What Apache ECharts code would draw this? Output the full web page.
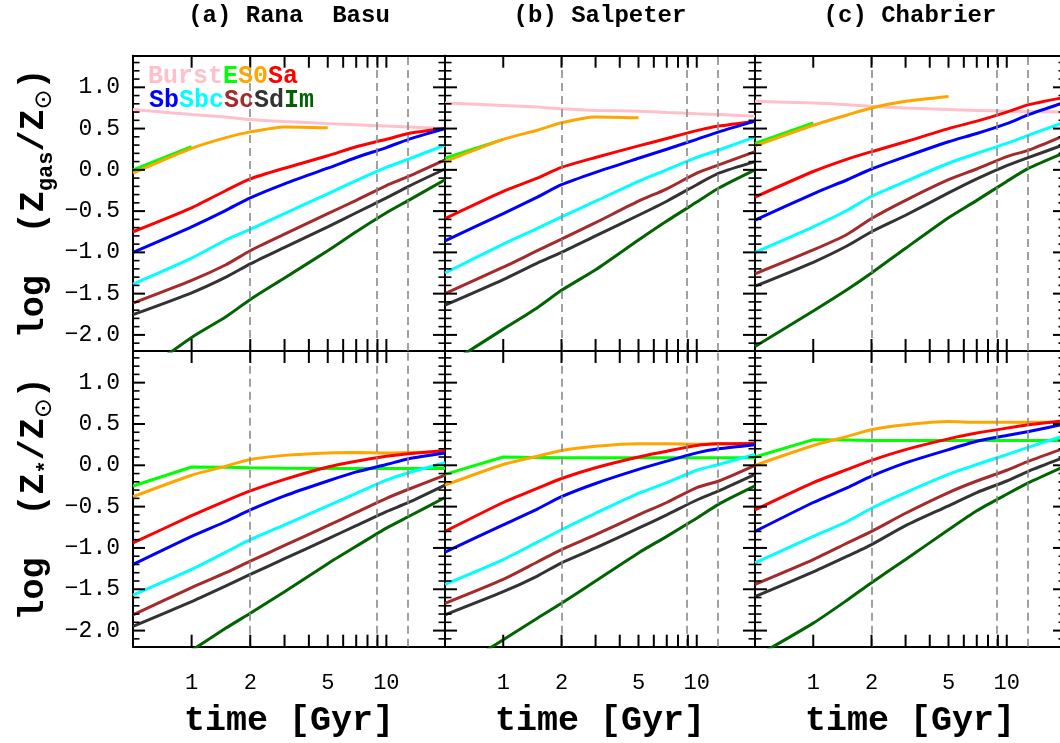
<!DOCTYPE html>
<html><head><meta charset="utf-8">
<script src="https://cdn.jsdelivr.net/npm/echarts@6/dist/echarts.min.js"></script>
<style>html,body{margin:0;padding:0;background:#fff}#c{width:1060px;height:743px}</style>
</head><body><div id="c"></div>
<script>
// ---------------- data ----------------
const TIME_GYR = [0.5, 1, 1.5, 2, 3, 5, 7, 10, 13, 20];
const TYPES = ['Burst', 'E', 'S0', 'Sa', 'Sb', 'Sbc', 'Sc', 'Sd', 'Im'];
const PANEL_TITLES = ['(a) Rana  Basu', '(b) Salpeter', '(c) Chabrier'];
const X_TICKS = [1, 2, 3, 4, 5, 6, 7, 8, 9, 10];
const X_TICK_LABELS = [1, 2, 5, 10];
const Y_TICK_LABELS = [-2.0, -1.5, -1.0, -0.5, 0.0, 0.5, 1.0];
const DASHED_TIMES = [2, 9, 13];

// log(Z_gas/Zsun), panel (a) Rana Basu
const gasRanaBasu = {
  Burst: [0.73, 0.67, 0.64, 0.61, 0.585, 0.56, 0.545, 0.53, 0.52, 0.50],
  E:     [0.00, 0.28],
  S0:    [-0.04, 0.26, 0.39, 0.46, 0.52, 0.51],
  Sa:    [-0.75, -0.46, -0.25, -0.11, 0.02, 0.17, 0.28, 0.37, 0.44, 0.50],
  Sb:    [-1.00, -0.69, -0.49, -0.34, -0.17, 0.02, 0.15, 0.27, 0.37, 0.50],
  Sbc:   [-1.385, -1.07, -0.85, -0.72, -0.53, -0.29, -0.13, 0.03, 0.13, 0.30],
  Sc:    [-1.615, -1.34, -1.15, -0.98, -0.78, -0.53, -0.37, -0.19, -0.08, 0.12],
  Sd:    [-1.755, -1.49, -1.30, -1.14, -0.94, -0.69, -0.52, -0.34, -0.20, 0.01],
  Im:    [-2.54, -2.03, -1.78, -1.57, -1.31, -0.98, -0.75, -0.52, -0.37, -0.12]
};
// log(Z_*/Zsun), panel (a) Rana Basu
const starRanaBasu = {
  E:     [-0.25, -0.02, -0.025, -0.03, -0.035, -0.04, -0.04, -0.04, -0.04, -0.04],
  S0:    [-0.38, -0.12, -0.01, 0.07, 0.12, 0.15, 0.155, 0.15, 0.155, 0.16],
  Sa:    [-0.94, -0.61, -0.43, -0.31, -0.17, -0.02, 0.05, 0.11, 0.14, 0.18],
  Sb:    [-1.20, -0.86, -0.68, -0.54, -0.37, -0.19, -0.08, 0.01, 0.08, 0.15],
  Sbc:   [-1.57, -1.26, -1.05, -0.90, -0.72, -0.49, -0.34, -0.18, -0.09, 0.03],
  Sc:    [-1.81, -1.48, -1.30, -1.16, -0.97, -0.73, -0.57, -0.40, -0.29, -0.12],
  Sd:    [-1.95, -1.65, -1.46, -1.32, -1.13, -0.89, -0.73, -0.56, -0.45, -0.24],
  Im:    [-2.69, -2.24, -1.97, -1.79, -1.53, -1.19, -0.98, -0.76, -0.62, -0.39]
};
// panel (b) Salpeter
const gasSalpeter = {
  Burst: [0.81, 0.78, 0.76, 0.74, 0.72, 0.71, 0.695, 0.68, 0.67, 0.65],
  E:     [0.14, 0.37],
  S0:    [0.10, 0.37, 0.48, 0.57, 0.64, 0.63],
  Sa:    [-0.59, -0.26, -0.10, 0.03, 0.15, 0.29, 0.38, 0.475, 0.53, 0.59],
  Sb:    [-0.86, -0.53, -0.33, -0.18, -0.03, 0.14, 0.25, 0.37, 0.46, 0.59],
  Sbc:   [-1.25, -0.90, -0.71, -0.57, -0.38, -0.14, 0.00, 0.15, 0.24, 0.40],
  Sc:    [-1.50, -1.18, -0.98, -0.84, -0.64, -0.38, -0.23, -0.04, 0.06, 0.22],
  Sd:    [-1.64, -1.33, -1.13, -1.00, -0.80, -0.55, -0.38, -0.18, -0.04, 0.10],
  Im:    [-2.38, -1.93, -1.67, -1.46, -1.21, -0.85, -0.62, -0.39, -0.22, 0.00]
};
const starSalpeter = {
  E:     [-0.11, 0.10, 0.095, 0.09, 0.09, 0.09, 0.09, 0.09, 0.09, 0.09],
  S0:    [-0.24, 0.01, 0.11, 0.18, 0.23, 0.26, 0.26, 0.255, 0.26, 0.26],
  Sa:    [-0.80, -0.45, -0.28, -0.16, -0.03, 0.10, 0.17, 0.24, 0.26, 0.265],
  Sb:    [-1.05, -0.72, -0.53, -0.38, -0.22, -0.05, 0.05, 0.15, 0.20, 0.25],
  Sbc:   [-1.44, -1.14, -0.93, -0.78, -0.58, -0.34, -0.21, -0.06, 0.01, 0.13],
  Sc:    [-1.67, -1.38, -1.17, -1.02, -0.84, -0.60, -0.45, -0.27, -0.19, 0.00],
  Sd:    [-1.81, -1.53, -1.34, -1.18, -1.00, -0.76, -0.60, -0.42, -0.31, -0.11],
  Im:    [-2.56, -2.11, -1.85, -1.67, -1.40, -1.06, -0.86, -0.64, -0.47, -0.25]
};
// panel (c) Chabrier
const gasChabrier = {
  Burst: [0.83, 0.81, 0.79, 0.77, 0.75, 0.73, 0.72, 0.71, 0.705, 0.70],
  E:     [0.32, 0.57],
  S0:    [0.29, 0.54, 0.665, 0.75, 0.83, 0.89],
  Sa:    [-0.33, -0.02, 0.13, 0.22, 0.34, 0.50, 0.59, 0.70, 0.79, 0.88],
  Sb:    [-0.61, -0.29, -0.12, 0.01, 0.16, 0.34, 0.44, 0.56, 0.67, 0.82],
  Sbc:   [-1.00, -0.69, -0.49, -0.32, -0.14, 0.08, 0.20, 0.32, 0.42, 0.58],
  Sc:    [-1.26, -0.97, -0.78, -0.59, -0.37, -0.12, 0.01, 0.16, 0.24, 0.42],
  Sd:    [-1.41, -1.12, -0.92, -0.75, -0.55, -0.28, -0.11, 0.05, 0.15, 0.31],
  Im:    [-2.14, -1.71, -1.45, -1.25, -0.95, -0.58, -0.37, -0.14, 0.02, 0.21]
};
const starChabrier = {
  E:     [0.10, 0.31, 0.305, 0.30, 0.30, 0.30, 0.30, 0.30, 0.30, 0.30],
  S0:    [0.00, 0.24, 0.35, 0.43, 0.49, 0.53, 0.52, 0.52, 0.52, 0.52],
  Sa:    [-0.54, -0.21, -0.05, 0.06, 0.19, 0.32, 0.39, 0.45, 0.49, 0.54],
  Sb:    [-0.80, -0.45, -0.27, -0.13, 0.03, 0.19, 0.29, 0.36, 0.41, 0.50],
  Sbc:   [-1.18, -0.86, -0.68, -0.52, -0.33, -0.11, 0.01, 0.13, 0.22, 0.36],
  Sc:    [-1.44, -1.14, -0.94, -0.80, -0.58, -0.33, -0.19, -0.06, 0.05, 0.21],
  Sd:    [-1.59, -1.29, -1.10, -0.96, -0.73, -0.49, -0.33, -0.19, -0.07, 0.10],
  Im:    [-2.32, -1.91, -1.63, -1.42, -1.14, -0.78, -0.55, -0.35, -0.21, -0.01]
};

// ---------------- styles / layout ----------------
const COLORS = {Burst:'#FFC0CB', E:'#00FF00', S0:'#FFA500', Sa:'#FF0000', Sb:'#0000FF',
  Sbc:'#00FFFF', Sc:'#A52A2A', Sd:'#333333', Im:'#006400'};
const FONT = 'Liberation Mono, DejaVu Sans Mono, monospace';
const GAS = [gasRanaBasu, gasSalpeter, gasChabrier];
const STAR = [starRanaBasu, starSalpeter, starChabrier];
const COL_LEFT = [133, 445, 755];
const COL_WIDTH = [312, 310, 310];
const ROW_TOP = [55.7, 351];
const ROW_HEIGHT = [295.3, 295.7];
const X_RANGE = [Math.log10(0.5), Math.log10(20)];
const Y_RANGE = [-2.195, 1.383];
const yMinor = [];
for (let k = -21; k <= 13; k++) if (k % 5 !== 0) yMinor.push(k / 10);

const lg = Math.log10;
const grids = [], xAxes = [], yAxes = [], series = [];

function fmtY(v) {
  const s = Math.abs(v).toFixed(1);
  return (v < -1e-9 ? '\u2212' : '') + s;
}

// tick marks drawn through the axes' own coordinate conversion
// side: 0 bottom, 1 top, 2 left, 3 right
const tickItems = [];
X_TICKS.forEach(t => { tickItems.push([lg(t), 0, 12]); tickItems.push([lg(t), 1, 12]); });
Y_TICK_LABELS.forEach(v => { tickItems.push([v, 2, 12]); tickItems.push([v, 3, 12]); });
yMinor.forEach(v => { tickItems.push([v, 2, 6.5]); tickItems.push([v, 3, 6.5]); });

function renderTick(params, api) {
  const v = api.value(0), side = api.value(1), len = api.value(2);
  let p, q;
  if (side === 0) { p = api.coord([v, Y_RANGE[0]]); q = [p[0], p[1] - len]; }
  else if (side === 1) { p = api.coord([v, Y_RANGE[1]]); q = [p[0], p[1] + len]; }
  else if (side === 2) { p = api.coord([X_RANGE[0], v]); q = [p[0] + len, p[1]]; }
  else { p = api.coord([X_RANGE[1], v]); q = [p[0] - len, p[1]]; }
  return {type: 'line', shape: {x1: p[0], y1: p[1], x2: q[0], y2: q[1]},
    style: {stroke: '#000', lineWidth: len > 8 ? 2 : 1.6}};
}

for (let r = 0; r < 2; r++) {
  for (let c = 0; c < 3; c++) {
    const g = r * 3 + c;
    grids.push({left: COL_LEFT[c], top: ROW_TOP[r], width: COL_WIDTH[c], height: ROW_HEIGHT[r],
      containLabel: false, outerBoundsMode: 'none'});
    const axLine = {show: true, onZero: false, lineStyle: {color: '#000', width: 2}};
    for (const pos of ['bottom', 'top']) {
      const showLab = (pos === 'bottom' && r === 1);
      xAxes.push({
        type: 'value', gridIndex: g, position: pos, min: X_RANGE[0], max: X_RANGE[1],
        axisLine: axLine, splitLine: {show: false}, axisTick: {show: false},
        axisLabel: {show: showLab, customValues: X_TICK_LABELS.map(lg), margin: 25,
          formatter: v => String(Math.round(Math.pow(10, v))),
          fontFamily: FONT, fontSize: 22, color: '#000'},
        name: showLab ? 'time [Gyr]' : '', nameLocation: 'middle', nameGap: 57,
        nameTextStyle: {fontFamily: FONT, fontSize: 35, fontWeight: 'bold', color: '#000'}
      });
    }
    for (const pos of ['left', 'right']) {
      const showLab = (pos === 'left' && c === 0);
      yAxes.push({
        type: 'value', gridIndex: g, position: pos, min: Y_RANGE[0], max: Y_RANGE[1],
        axisLine: axLine, splitLine: {show: false}, axisTick: {show: false},
        axisLabel: {show: showLab, customValues: Y_TICK_LABELS, margin: 13, formatter: fmtY,
          fontFamily: FONT, fontSize: 23, color: '#000'}
      });
    }
    // dashed reference times
    series.push({
      type: 'line', xAxisIndex: 2 * g, yAxisIndex: 2 * g, data: [], z: 1, silent: true,
      markLine: {silent: true, symbol: ['none', 'none'], label: {show: false}, animation: false,
        lineStyle: {color: '#8a8a8a', width: 1.6, type: [8, 5]},
        data: DASHED_TIMES.map(t => ({xAxis: lg(t)}))}
    });
    const set = r === 0 ? GAS[c] : STAR[c];
    for (const ty of TYPES) {
      const arr = set[ty];
      if (!arr) continue;
      const data = arr.map((v, i) => [lg(TIME_GYR[i]), v]).filter(p => p[1] != null);
      series.push({
        type: 'line', name: ty, xAxisIndex: 2 * g, yAxisIndex: 2 * g, data,
        symbol: 'none', showSymbol: false, clip: true, z: 2,
        smooth: (ty === 'E' && r === 1) ? false : 0.22,
        lineStyle: {color: COLORS[ty], width: 3}
      });
    }
    series.push({
      type: 'custom', xAxisIndex: 2 * g, yAxisIndex: 2 * g, data: tickItems,
      renderItem: renderTick, silent: true, clip: false, z: 5
    });
  }
}

const graphics = [];
PANEL_TITLES.forEach((t, c) => {
  graphics.push({type: 'text', x: COL_LEFT[c] + COL_WIDTH[c] / 2, y: 16,
    style: {text: t, fontFamily: FONT, fontSize: 24, fontWeight: 'bold', fill: '#000',
      align: 'center', verticalAlign: 'middle'}});
});
const legRich = {};
TYPES.forEach(ty => { legRich[ty] = {fill: COLORS[ty], fontFamily: FONT, fontSize: 25, fontWeight: 'bold'}; });
graphics.push({type: 'text', x: 148, y: 77, z: 10,
  style: {text: ['Burst', 'E', 'S0', 'Sa'].map(t => '{' + t + '|' + t + '}').join(''),
    rich: legRich, align: 'left', verticalAlign: 'middle'}});
graphics.push({type: 'text', x: 149, y: 101, z: 10,
  style: {text: ['Sb', 'Sbc', 'Sc', 'Sd', 'Im'].map(t => '{' + t + '|' + t + '}').join(''),
    rich: legRich, align: 'left', verticalAlign: 'middle'}});
const titleRich = {
  a: {fontFamily: FONT, fontSize: 35, fontWeight: 'bold', fill: '#000', lineHeight: 46},
  s: {fontFamily: FONT, fontSize: 22, fontWeight: 'bold', fill: '#000', lineHeight: 22, verticalAlign: 'bottom'},
  o: {fontFamily: 'DejaVu Sans', fontSize: 24, fill: '#000', lineHeight: 24, verticalAlign: 'bottom'}
};
graphics.push({type: 'text', x: 34, y: ROW_TOP[0] + ROW_HEIGHT[0] / 2, rotation: Math.PI / 2,
  style: {text: '{a|log  (Z}{s|gas}{a|/Z}{o|\u2299}{a|)}', rich: titleRich, align: 'center', verticalAlign: 'middle'}});
graphics.push({type: 'text', x: 34, y: ROW_TOP[1] + ROW_HEIGHT[1] / 2, rotation: Math.PI / 2,
  style: {text: '{a|log  (Z}{s|*}{a|/Z}{o|\u2299}{a|)}', rich: titleRich, align: 'center', verticalAlign: 'middle'}});

const chart = echarts.init(document.getElementById('c'), null, {renderer: 'canvas'});
chart.setOption({
  animation: false,
  backgroundColor: '#fff',
  grid: grids, xAxis: xAxes, yAxis: yAxes, series, graphic: graphics
});
</script>
</body></html>
